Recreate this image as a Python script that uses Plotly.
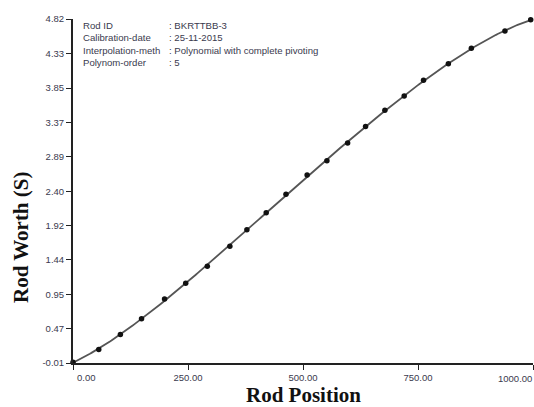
import numpy as np
import plotly.graph_objects as go

# Measured calibration points
rod_position = [0, 56, 103, 149, 199, 245, 292, 341, 378, 420, 463, 509,
                552, 597, 636, 678, 720, 762, 816, 866, 939, 995]
rod_worth = [0.00, 0.18, 0.39, 0.61, 0.89, 1.11, 1.35, 1.63, 1.86, 2.10, 2.36, 2.63,
             2.83, 3.08, 3.31, 3.54, 3.74, 3.96, 4.19, 4.41, 4.65, 4.81]

poly_order = 5

y_tickvals = [-0.01, 0.47, 0.95, 1.44, 1.92, 2.40, 2.89, 3.37, 3.85, 4.33, 4.82]
y_ticktext = ["-0.01", "0.47", "0.95", "1.44", "1.92", "2.40", "2.89", "3.37", "3.85", "4.33", "4.82"]
x_tickvals = [0, 250, 500, 750, 1000]
x_ticklabels = ["0.00", "250.00", "500.00", "750.00", "1000.00"]

info_labels = ["Rod ID", "Calibration-date", "Interpolation-meth", "Polynom-order"]
info_values = [": BKRTTBB-3", ": 25-11-2015", ": Polynomial with complete pivoting", ": 5"]

# first label is left-shifted into the plot, last label is drawn right-aligned at the edge
x_ticktext = ["&nbsp;" * 10 + x_ticklabels[0]] + x_ticklabels[1:-1] + [""]

# Polynomial interpolation (order 5) of the measured points
coef = np.polyfit(rod_position, rod_worth, poly_order)
xs = np.linspace(0, 1000, 300)
ys = np.polyval(coef, xs)

fig = go.Figure()
fig.add_trace(go.Scatter(x=xs, y=ys, mode="lines",
                         line=dict(color="#555555", width=1.8),
                         hoverinfo="skip", cliponaxis=False))
fig.add_trace(go.Scatter(x=rod_position, y=rod_worth, mode="markers",
                         marker=dict(color="#111111", size=5.5, symbol="circle"),
                         cliponaxis=False))

W, H = 534, 407
# plot area in window pixels: x 73..533, y 19..363
ml, mr, mt, mb = 73, 1, 19, 407 - 363
pw, ph = W - ml - mr, H - mt - mb

def px(xp):
    return (xp - ml) / pw

def py(yp):
    return (H - mb - yp) / ph

tick_font = dict(family="Liberation Sans", size=9.5, color="#3a3a4e")

annotations = []
line_y = [25, 37.5, 50.2, 62.6]
for lab, val, yy in zip(info_labels, info_values, line_y):
    annotations.append(dict(x=px(81), y=py(yy), xref="paper", yref="paper",
                            text=lab, showarrow=False, xanchor="left", yanchor="middle",
                            font=dict(family="Liberation Sans", size=9.6, color="#3a3a4e")))
    annotations.append(dict(x=px(167), y=py(yy), xref="paper", yref="paper",
                            text=val, showarrow=False, xanchor="left", yanchor="middle",
                            font=dict(family="Liberation Sans", size=9.6, color="#3a3a4e")))

# last x tick label, right-aligned at the axis end
annotations.append(dict(x=x_tickvals[-1], y=py(378), xref="x", yref="paper",
                        text=x_ticklabels[-1], showarrow=False,
                        xanchor="right", yanchor="middle", xshift=1, font=tick_font))

annotations.append(dict(x=px(303), y=py(395), xref="paper", yref="paper",
                        text="<b>Rod Position</b>", showarrow=False,
                        xanchor="center", yanchor="middle",
                        font=dict(family="Liberation Serif", size=21, color="#111111")))
annotations.append(dict(x=px(21), y=py(238), xref="paper", yref="paper",
                        text="<b>Rod Worth (S)</b>", showarrow=False, textangle=-90,
                        xanchor="center", yanchor="middle",
                        font=dict(family="Liberation Serif", size=21, color="#111111")))

fig.update_layout(
    width=W, height=H,
    margin=dict(l=ml, r=mr, t=mt, b=mb, autoexpand=False),
    plot_bgcolor="white", paper_bgcolor="white",
    showlegend=False,
    annotations=annotations,
    xaxis=dict(range=[0, 1000], tickvals=x_tickvals, ticktext=x_ticktext,
               showgrid=False, zeroline=False, showline=True, linecolor="#222222",
               linewidth=2, ticks="outside", ticklen=5, tickcolor="#222222",
               ticklabeloverflow="allow", automargin=False, tickfont=tick_font),
    yaxis=dict(range=[-0.01, 4.82], tickvals=y_tickvals, ticktext=y_ticktext,
               showgrid=False, zeroline=False, showline=True, linecolor="#222222",
               linewidth=2, ticks="outside", ticklen=5, tickcolor="#222222",
               ticklabeloverflow="allow", automargin=False, tickfont=tick_font),
)

fig.write_html("out.html",
               config={"displayModeBar": False},
               post_script="document.body.style.margin='0';document.body.style.overflow='hidden';")
